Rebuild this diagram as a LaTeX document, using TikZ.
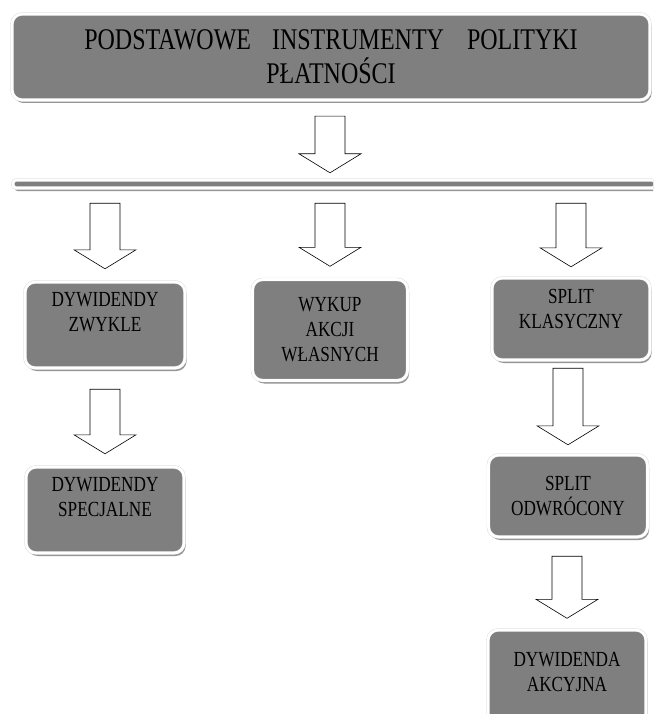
\documentclass[tikz,border=0pt]{standalone}
\usepackage{fontspec}
\setmainfont{Liberation Serif}[FakeStretch=0.8]
\usetikzlibrary{calc,shadows}
\definecolor{boxgray}{RGB}{127,127,127}
\definecolor{rimgray}{RGB}{215,215,215}
\definecolor{shadegray}{RGB}{150,150,150}
\tikzset{
  box/.style={rounded corners=10pt, fill=boxgray, draw=rimgray, double=white,
    double distance=2.6pt, line width=0.4pt, inner sep=0pt, align=center,
    font=\fontsize{21.5}{25}\selectfont,
    drop shadow={shadow xshift=1.6pt, shadow yshift=-3pt, fill=shadegray, opacity=1}},
  titlebox/.style={box, font=\fontsize{30}{34}\selectfont},
  barbox/.style={box, rounded corners=3pt},
  blockarrow/.style={draw=black, fill=white, line width=0.6pt, line join=miter}
}
\newcommand\barrow[2]{%
  \path let \p1=(#1), \p2=(#2) in
    [blockarrow] (\x2-15pt,\y1) -- (\x2+15pt,\y1) -- (\x2+15pt,\y2+19pt)
    -- (\x2+31pt,\y2+19pt) -- (\x2,\y2) -- (\x2-31pt,\y2+19pt)
    -- (\x2-15pt,\y2+19pt) -- cycle;}
\begin{document}
\begin{tikzpicture}[x=1pt,y=-1pt]
\useasboundingbox (0,0) rectangle (653,714);
\clip (0,0) rectangle (653,714);
\fill[white] (0,0) rectangle (653,714);
% boxes
\node[titlebox, minimum width=638pt, minimum height=86pt] (top) at (331,57)
  {PODSTAWOWE\hspace{15pt} INSTRUMENTY\hspace{17pt} POLITYKI\\PŁATNOŚCI};
\node[barbox, minimum width=642pt, minimum height=8pt] (bar) at (334,184) {};
\node[box, minimum width=160pt, minimum height=86pt] (l1) at (105,325)
  {DYWIDENDY\\ZWYKLE\\[2pt]};
\node[box, minimum width=155pt, minimum height=101pt] (mid) at (330,330)
  {WYKUP\\AKCJI\\WŁASNYCH};
\node[box, minimum width=158pt, minimum height=82pt] (r1) at (571,319)
  {SPLIT\\KLASYCZNY\\[-4pt]};
\node[box, minimum width=158pt, minimum height=86pt] (l2) at (105,510)
  {DYWIDENDY\\SPECJALNE\\[2pt]};
\node[box, minimum width=159pt, minimum height=82pt] (r2) at (568,496)
  {SPLIT\\ODWRÓCONY};
\node[box, minimum width=158pt, minimum height=116pt] (r3) at (567,688)
  {DYWIDENDA\\AKCYJNA\\[8pt]};
% block arrows
\barrow{$(top.south)+(0,16)$}{$(bar.north -| mid.north)+(0,-7)$}
\barrow{$(bar.south -| l1.north)+(0,15)$}{$(l1.north)+(0,-13)$}
\barrow{$(bar.south -| mid.north)+(0,15)$}{$(mid.north)+(0,-13)$}
\barrow{$(bar.south -| r1.north)+(0,15)$}{$(r1.north)+(0,-11)$}
\barrow{$(l1.south)+(0,21)$}{$(l2.north)+(0,-13)$}
\barrow{$(r1.south)+(0,8)$}{$(r2.north)+(0,-10)$}
\barrow{$(r2.south)+(0,19)$}{$(r3.north)+(0,-11.5)$}
\end{tikzpicture}
\end{document}
